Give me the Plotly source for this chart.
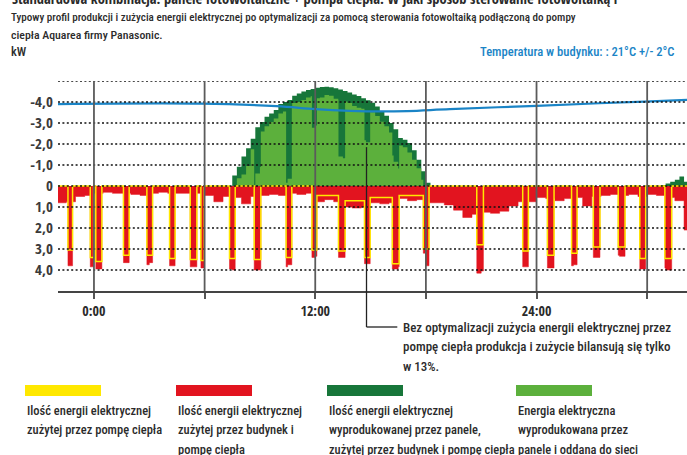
import numpy as np
import plotly.graph_objects as go

# ---------------------------------------------------------------------------
# Axes (hours counted from midnight of the first day, power in kW)
# ---------------------------------------------------------------------------
X_MIN, X_MAX = -1.95, 32.16
Y_MIN, Y_MAX = -5.0, 5.0

tick_hours = [0, 6, 12, 18, 24, 30]
tick_labels = ["0:00", "", "12:00", "", "24:00", ""]
grid_kw = [-5, -4, -3, -2, -1, 0, 1, 2, 3, 4]
y_ticks = [-4, -3, -2, -1, 0, 1, 2, 3, 4]
y_tick_labels = ["-4,0", "-3,0", "-2,0", "-1,0", "0", "1,0", "2,0", "3,0", "4,0"]

# ---------------------------------------------------------------------------
# Building load without the heat pump, kW, half-hour blocks from -2:00
# ---------------------------------------------------------------------------
base_start = -2.0
base_step = 0.5
base_load = [
    0.80, 0.75, 0.50, 0.45, 0.35, 0.30, 0.35, 0.35, 0.40, 0.45,   # -2:00 .. 2:30
    0.35, 0.30, 0.35, 0.35, 0.35, 0.35, 0.45, 0.75, 0.50, 0.55,   # 3:00 .. 7:30
    0.85, 0.50, 0.45, 0.40, 0.45, 0.35, 0.40, 0.35, 0.30, 0.20,   # 8:00 .. 12:30
    0.30, 0.30, 0.35, 0.30, 0.25, 0.30, 0.25, 0.15, 0.25, 0.20,   # 13:00 .. 17:30
    0.80, 0.80, 0.90, 1.15, 1.50, 1.35, 1.25, 1.30, 1.20, 0.95,   # 18:00 .. 22:30
    0.75, 0.75, 0.55, 0.60, 0.70, 0.60, 0.55, 0.95, 0.50, 0.45,   # 23:00 .. 27:30
    0.40, 0.45, 0.40, 0.50, 0.40, 0.45, 0.55, 0.70, 2.10,         # 28:00 .. 32:00
]

# ---------------------------------------------------------------------------
# Heat pump runs: switch-on / switch-off hour, electric power (kW) and the
# part of that power covered directly by the PV panels (kW)
# ---------------------------------------------------------------------------
pump_on = [-1.41, -0.20, 0.10, 1.60, 2.87, 4.10, 5.22, 5.80, 7.35, 8.69,
           10.42, 11.82, 12.09, 13.26, 13.62, 14.67, 14.98, 16.18, 16.55, 17.86,
           20.76, 23.25, 24.59, 25.90, 27.08, 28.43, 29.60, 30.96]
pump_off = [-1.16, -0.02, 0.43, 1.91, 3.18, 4.40, 5.58, 5.98, 7.66, 9.05,
            10.73, 12.09, 13.26, 13.62, 14.67, 14.98, 16.18, 16.55, 17.86, 18.17,
            21.12, 23.56, 24.95, 26.20, 27.44, 28.80, 29.92, 31.33]
pump_kw = [3.05, 3.40, 3.60, 3.30, 3.30, 3.45, 3.50, 3.55, 3.45, 3.50,
           3.40, 3.05, 0.45, 3.10, 0.70, 3.40, 0.55, 3.70, 0.45, 3.00,
           2.80, 3.10, 3.30, 3.20, 2.90, 2.90, 3.45, 3.45]
pump_pv_kw = [0.0, 0.0, 0.0, 0.0, 0.0, 0.0, 0.0, 0.0, 3.45, 1.70,
              3.40, 1.50, 0.20, 2.90, 0.20, 1.70, 0.20, 1.30, 0.20, 3.00,
              0.0, 0.0, 0.0, 0.0, 0.0, 0.0, 0.0, 0.0]

# ---------------------------------------------------------------------------
# PV production, kW, quarter-hour blocks
# ---------------------------------------------------------------------------
pv_step = 0.25
pv_day1_start = 7.25
pv_day1 = [
    0.00, 0.50, 0.92, 1.40, 1.80, 2.25, 2.80, 3.05, 3.30, 3.45,   # 7:15 ..
    3.62, 3.90, 4.00, 4.10, 4.30, 4.40, 4.50, 4.57, 4.62, 4.68,   # 9:45 ..
    4.72, 4.73, 4.70, 4.66, 4.60, 4.52, 4.45, 4.36, 4.28, 4.18,   # 12:15 ..
    4.08, 3.96, 3.78, 3.56, 3.34, 3.00, 2.70, 2.28, 2.20, 2.05,   # 14:45 ..
    1.70, 1.25, 0.70, 0.15, 0.00,                                 # 17:15 ..
]
pv_day2_start = 30.75
pv_day2 = [0.05, 0.12, 0.20, 0.30, 0.45, 0.20]

# ---------------------------------------------------------------------------
# Indoor temperature, °C
# ---------------------------------------------------------------------------
temp_hours = [-1.95, 5.8, 9.9, 12.0, 13.9, 15.5, 17.0, 19.3, 24.0, 27.4, 30.2, 32.16]
temp_c = [21.90, 21.92, 21.80, 21.66, 21.58, 21.55, 21.57, 21.66, 21.82, 21.94, 22.03, 22.10]

# colours
C_PUMP = "#ffe800"
C_LOAD = "#e2141f"
C_SELF = "#17763a"
C_GRID = "#5cb03c"
C_TEMP = "#1a84c6"
C_TEXT = "#2b2b2b"

FONT = "Roboto Condensed, DejaVu Sans Condensed, sans-serif"
FONT_BOLD = "Open Sans Condensed, Roboto Condensed, sans-serif"

# ---------------------------------------------------------------------------
# Step series on a common set of break points
# ---------------------------------------------------------------------------
base_t = [base_start + i * base_step for i in range(len(base_load))]
pv1_t = [pv_day1_start + i * pv_step for i in range(len(pv_day1))]
pv2_t = [pv_day2_start + i * pv_step for i in range(len(pv_day2))]

edges = set(base_t) | {base_t[-1] + base_step}
edges |= set(pump_on) | set(pump_off)
edges |= set(pv1_t) | {pv1_t[-1] + pv_step} | set(pv2_t) | {pv2_t[-1] + pv_step}
edges = sorted(round(e, 4) for e in edges)


def block_value(t, start, step, values):
    i = int(np.floor((t - start) / step + 1e-9))
    return values[i] if 0 <= i < len(values) else 0.0


t_pts, load, pump, prod, export = [], [], [], [], []
for a, b in zip(edges[:-1], edges[1:]):
    m = 0.5 * (a + b)
    base = block_value(m, base_start, base_step, base_load)
    p_kw = sum(k for on, off, k in zip(pump_on, pump_off, pump_kw) if on <= m < off)
    p_pv = sum(k for on, off, k in zip(pump_on, pump_off, pump_pv_kw) if on <= m < off)
    pv = block_value(m, pv_day1_start, pv_step, pv_day1) + block_value(m, pv_day2_start, pv_step, pv_day2)
    self_use = min(pv, base + p_pv)
    t_pts.append(a)
    load.append(base + p_kw)
    pump.append(p_kw)
    prod.append(-pv)
    export.append(-(pv - self_use))

# close the last step
t_pts.append(edges[-1])
for s in (load, pump, prod, export):
    s.append(s[-1])

fig = go.Figure()
step = dict(mode="lines", line_shape="hv", hoverinfo="skip", showlegend=False)
fig.add_trace(go.Scatter(x=t_pts, y=prod, fill="tozeroy", fillcolor=C_SELF,
                         line=dict(color=C_SELF, width=0), **step))
fig.add_trace(go.Scatter(x=t_pts, y=export, fill="tozeroy", fillcolor=C_GRID,
                         line=dict(color=C_GRID, width=0), **step))
fig.add_trace(go.Scatter(x=t_pts, y=load, fill="tozeroy", fillcolor=C_LOAD,
                         line=dict(color=C_LOAD, width=0.5), **step))
fig.add_trace(go.Scatter(x=t_pts, y=pump, line=dict(color=C_PUMP, width=1.5), **step))
fig.add_trace(go.Scatter(x=temp_hours, y=temp_c, yaxis="y2", mode="lines",
                         line=dict(color=C_TEMP, width=2.2, shape="spline"),
                         hoverinfo="skip", showlegend=False))

# ---------------------------------------------------------------------------
# Layout
# ---------------------------------------------------------------------------
W, H = 687, 455
M_L, M_R, M_T, M_B = 58, 0, 81, 164


def px(xpx):
    return (xpx - M_L) / (W - M_L - M_R)


def py(ypx):
    return 1 - (ypx - M_T) / (H - M_T - M_B)


def y_paper(v):
    return (Y_MAX - v) / (Y_MAX - Y_MIN)


shapes = []
# dotted horizontal grid drawn over the areas
for g in grid_kw:
    shapes.append(dict(type="line", xref="paper", x0=0, x1=1, yref="y", y0=g, y1=g,
                       line=dict(color="#111111", width=1.4, dash="2px,2.4px"), layer="above"))
# solid vertical lines every six hours
for h in tick_hours:
    shapes.append(dict(type="line", xref="x", x0=h, x1=h, yref="paper", y0=0, y1=1,
                       line=dict(color="#5b5b5b", width=1.8), layer="above"))

# call-out for the heat pump run at ~14:47
call_h, call_kw = 14.78, -1.85
call_end_h = 16.45
call_y = py(327)
shapes.append(dict(type="line", xref="x", x0=call_h, x1=call_h, yref="paper",
                   y0=y_paper(call_kw), y1=call_y, line=dict(color="#222222", width=1.3), layer="above"))
shapes.append(dict(type="line", xref="x", x0=call_h, x1=call_end_h, yref="paper",
                   y0=call_y, y1=call_y, line=dict(color="#222222", width=1.3), layer="above"))

# legend swatches
legend_x = [25, 176, 327, 516]
legend_colors = [C_PUMP, C_LOAD, C_SELF, C_GRID]
legend_text = [
    ["Ilość energii elektrycznej", "zużytej przez pompę ciepła"],
    ["Ilość energii elektrycznej", "zużytej przez budynek i", "pompę ciepła"],
    ["Ilość energii elektrycznej", "wyprodukowanej przez panele,", "zużytej przez budynek i pompę ciepła"],
    ["Energia elektryczna", "wyprodukowana przez", "panele i oddana do sieci"],
]
for lx, col in zip(legend_x, legend_colors):
    shapes.append(dict(type="rect", xref="paper", yref="paper", x0=px(lx), x1=px(lx + 76),
                       y0=py(385), y1=py(396), fillcolor=col, line=dict(width=0)))

annotations = []


def text(x, y, s, size=13, color=C_TEXT, anchor="left", family=FONT, weight=500):
    annotations.append(dict(xref="paper", yref="paper", x=px(x), y=py(y), text=s,
                            showarrow=False, xanchor=anchor, yanchor="middle",
                            font=dict(family=family, size=size, color=color, weight=weight)))


text(10, -2, "Standardowa kombinacja: panele fotowoltaiczne + pompa ciepła. W jaki sposób sterowanie fotowoltaiką i",
     14.5, family=FONT_BOLD, weight="bold")
text(9, 18, "Typowy profil produkcji i zużycia energii elektrycznej po optymalizacji za pomocą sterowania fotowoltaiką podłączoną do pompy", 11.1)
text(9, 35, "ciepła Aquarea firmy Panasonic.", 11.8)
text(9, 51, "kW", 12.5)
text(677, 51, "Temperatura w budynku: : 21°C +/- 2°C", 12.6, color=C_TEMP, anchor="right")

for i, s in enumerate(["Bez optymalizacji zużycia energii elektrycznej przez",
                       "pompę ciepła produkcja i zużycie bilansują się tylko",
                       "w 13%."]):
    text(401, 327 + 19.5 * i, s, 13)

for lx, lines in zip(legend_x, legend_text):
    for i, s in enumerate(lines):
        text(lx, 410 + 19.5 * i, s, 12.5)

fig.update_layout(
    width=W, height=H,
    margin=dict(l=M_L, r=M_R, t=M_T, b=M_B, pad=0),
    paper_bgcolor="white", plot_bgcolor="white",
    showlegend=False,
    xaxis=dict(range=[X_MIN, X_MAX], tickvals=tick_hours, ticktext=tick_labels,
               showgrid=False, zeroline=False, showline=True, linecolor="#444444", linewidth=1.6,
               ticks="outside", ticklen=6, tickwidth=1.6, tickcolor="#555555",
               tickfont=dict(family=FONT_BOLD, size=14, color=C_TEXT, weight="bold"),
               layer="above traces", fixedrange=True),
    yaxis=dict(range=[Y_MAX, Y_MIN], tickvals=y_ticks, ticktext=y_tick_labels,
               showgrid=False, zeroline=False, showline=False, ticks="",
               ticklabelstandoff=4,
               tickfont=dict(family=FONT_BOLD, size=15, color="#3a3a3a", weight="bold"),
               fixedrange=True),
    yaxis2=dict(range=[13.0, 23.0], overlaying="y", visible=False, fixedrange=True),
    shapes=shapes,
    annotations=annotations,
)

fig.write_html("out.html")
